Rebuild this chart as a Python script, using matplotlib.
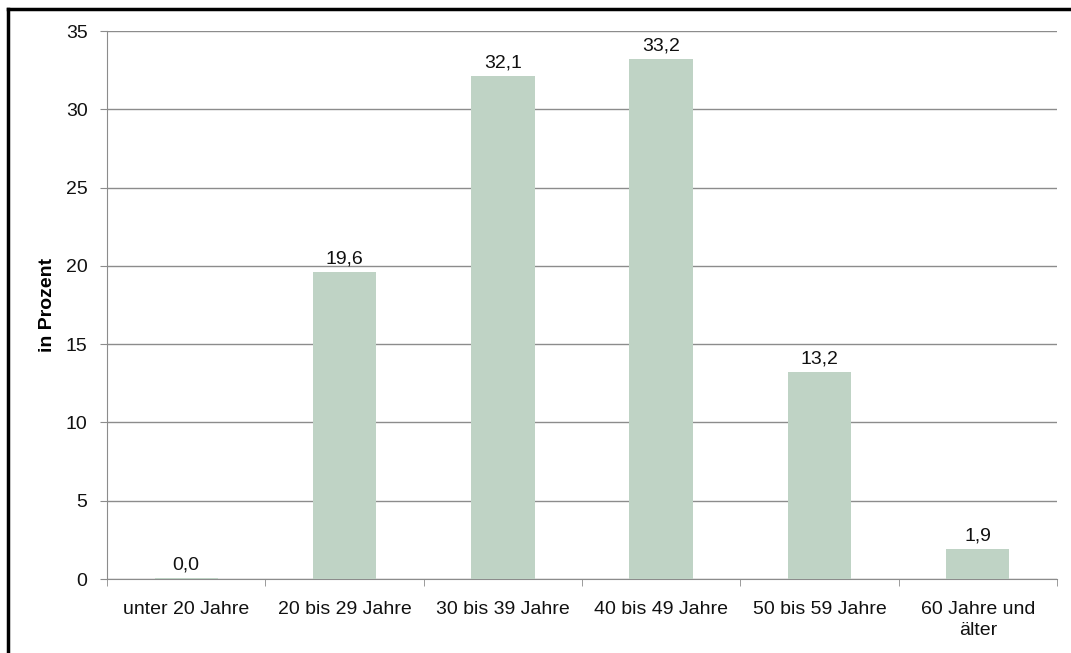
import matplotlib
matplotlib.use('Agg')
import matplotlib.pyplot as plt
from matplotlib.lines import Line2D

plt.rcParams['font.family'] = ['Liberation Sans', 'DejaVu Sans']

categories = ['unter 20 Jahre', '20 bis 29 Jahre', '30 bis 39 Jahre',
              '40 bis 49 Jahre', '50 bis 59 Jahre', '60 Jahre und\nälter']
values = [0.04, 19.6, 32.1, 33.2, 13.2, 1.9]

bar_color = '#bfd3c5'
grid_color = '#8c8c8c'

fig = plt.figure(figsize=(10.71, 6.53), dpi=100)
ax = fig.add_axes([107 / 1071, 1 - 579 / 653, (1057 - 107) / 1071, (579 - 31) / 653])

x = list(range(len(categories)))
bars = ax.bar(x, values, width=0.4, color=bar_color, zorder=3)
ax.bar_label(bars, labels=[f'{v:.1f}'.replace('.', ',') for v in values],
             padding=3.5, fontsize=14, color='#111111')

ax.set_xlim(-0.5, len(categories) - 0.5)
ax.set_ylim(0, 35)
ax.set_yticks(range(0, 36, 5))
ax.set_xticks(x)
ax.set_xticklabels(categories, fontsize=14, linespacing=1.3)
ax.tick_params(axis='x', length=0, pad=16, colors='#111111')
ax.set_xticks([i - 0.5 for i in range(len(categories) + 1)], minor=True)
ax.tick_params(axis='x', which='minor', length=5, color=grid_color, direction='out')
ax.tick_params(axis='y', labelsize=14, length=5, color=grid_color, pad=9, labelcolor='#111111')

ax.yaxis.grid(True, color=grid_color, linewidth=1)
ax.set_axisbelow(True)
for s in ['top', 'right']:
    ax.spines[s].set_visible(False)
ax.spines['left'].set_color(grid_color)
ax.spines['bottom'].set_color(grid_color)

ax.set_ylabel('in Prozent', fontsize=14, fontweight='bold', labelpad=7)

# Rahmen um die Grafik (rechts und unten abgeschnitten)
fig.add_artist(Line2D([8 / 1071, 1.0], [1 - 9 / 653, 1 - 9 / 653], color='black',
                      linewidth=2.5, transform=fig.transFigure))
fig.add_artist(Line2D([8 / 1071, 8 / 1071], [0.0, 1 - 9 / 653], color='black',
                      linewidth=2.5, transform=fig.transFigure))

fig.savefig('out.png', dpi=100)
